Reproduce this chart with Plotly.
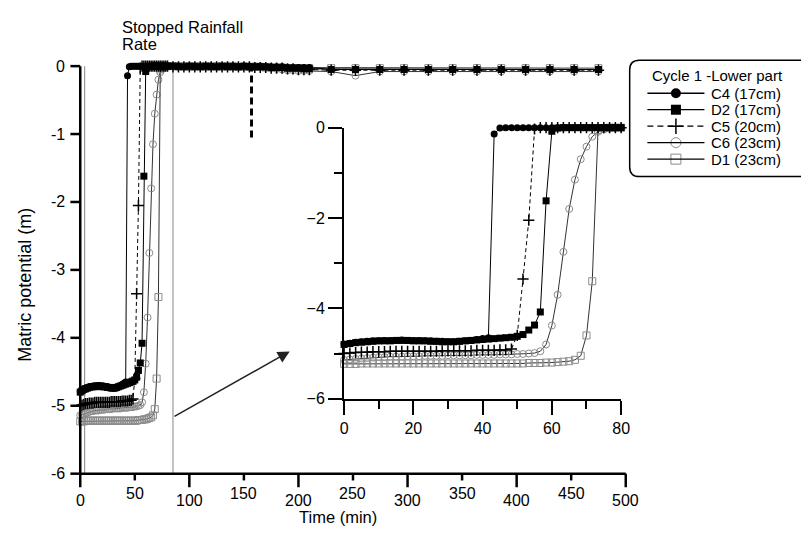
import numpy as np
import plotly.graph_objects as go

W, H = 801, 544

# ---- sampling times (min): 100-s logging while wetting, then 5 min, then ~22 min
t_fast = np.arange(49) * 100 / 60          # 0 .. 80 min
t_mid = np.arange(85, 211, 5)              # 85 .. 210 min
t_slow = np.linspace(230, 475, 12)         # 230 .. 475 min
time = np.concatenate([t_fast, t_mid, t_slow])

# ---- matric potential readings (m)
C4_fast = [-4.79, -4.77, -4.75, -4.74, -4.73, -4.72, -4.72, -4.71, -4.71, -4.71,
           -4.70, -4.71, -4.71, -4.71, -4.72, -4.72, -4.73, -4.73, -4.74, -4.74,
           -4.73, -4.72, -4.71, -4.69, -4.67, -4.65, -0.14, -0.01, 0.00, 0.00,
           0.00, 0.00, 0.00, 0.00, 0.00, 0.00, 0.00, 0.00, 0.00, 0.00,
           0.00, 0.00, 0.00, 0.00, 0.00, 0.00, 0.00, 0.00, 0.00]
D2_fast = [-4.80, -4.78, -4.76, -4.75, -4.74, -4.73, -4.72, -4.72, -4.72, -4.71,
           -4.71, -4.71, -4.72, -4.72, -4.72, -4.73, -4.73, -4.74, -4.74, -4.74,
           -4.73, -4.72, -4.71, -4.70, -4.69, -4.68, -4.67, -4.66, -4.65, -4.64,
           -4.62, -4.58, -4.48, -4.37, -4.08, -1.62, -0.08, -0.01, 0.00, 0.00,
           0.00, 0.00, 0.00, 0.00, 0.00, 0.00, 0.00, 0.00, 0.00]
C5_fast = [-5.00, -4.99, -4.98, -4.97, -4.97, -4.96, -4.96, -4.96, -4.95, -4.95,
           -4.95, -4.95, -4.95, -4.95, -4.95, -4.95, -4.95, -4.94, -4.94, -4.94,
           -4.94, -4.94, -4.94, -4.93, -4.93, -4.93, -4.93, -4.92, -4.92, -4.90,
           -4.60, -3.35, -2.05, -0.03, 0.00, 0.00, 0.00, 0.00, 0.00, 0.00,
           0.00, 0.00, 0.00, 0.00, 0.00, 0.00, 0.00, 0.00, 0.00]
C6_fast = [-5.14, -5.13, -5.12, -5.11, -5.10, -5.09, -5.08, -5.08, -5.07, -5.07,
           -5.07, -5.06, -5.06, -5.06, -5.05, -5.05, -5.05, -5.05, -5.04, -5.04,
           -5.04, -5.04, -5.04, -5.03, -5.03, -5.03, -5.03, -5.02, -5.02, -5.02,
           -5.01, -5.01, -5.00, -4.99, -4.95, -4.80, -4.38, -3.70, -2.75, -1.80,
           -1.15, -0.70, -0.42, -0.20, -0.09, -0.04, -0.02, -0.01, 0.00]
D1_fast = [-5.23, -5.23, -5.23, -5.22, -5.22, -5.22, -5.22, -5.22, -5.22, -5.22,
           -5.22, -5.22, -5.22, -5.22, -5.22, -5.22, -5.22, -5.22, -5.22, -5.22,
           -5.22, -5.22, -5.22, -5.22, -5.22, -5.22, -5.22, -5.22, -5.22, -5.22,
           -5.22, -5.22, -5.21, -5.21, -5.21, -5.20, -5.20, -5.19, -5.18, -5.17,
           -5.14, -5.05, -4.60, -3.40, -0.05, -0.01, 0.00, 0.00, 0.00]

C4_mid = [0.00, 0.00, -0.01, 0.00, 0.00, -0.01, 0.00, 0.00, -0.01, 0.00, 0.00, 0.00, -0.01,
          0.00, 0.00, -0.01, 0.00, -0.01, -0.01, -0.01, -0.01, -0.02, -0.02, -0.02, -0.02, -0.02]
D2_mid = [0.00, -0.01, -0.01, 0.00, -0.01, -0.01, 0.00, -0.01, -0.01, 0.00, -0.01, -0.01, -0.01,
          0.00, -0.01, -0.01, -0.01, -0.01, -0.02, -0.02, -0.02, -0.03, -0.03, -0.03, -0.04, -0.04]
C5_mid = [-0.01, -0.01, -0.01, -0.01, -0.01, -0.01, -0.01, -0.01, -0.01, -0.01, -0.01, -0.01, -0.01,
          -0.01, -0.01, -0.02, -0.02, -0.02, -0.03, -0.03, -0.03, -0.04, -0.04, -0.05, -0.05, -0.05]
C6_mid = [0.01, 0.02, 0.03, 0.03, 0.02, 0.03, 0.03, 0.02, 0.03, 0.02, 0.03, 0.02, 0.02,
          0.01, 0.01, 0.00, -0.01, -0.02, -0.03, -0.04, -0.05, -0.06, -0.06, -0.07, -0.07, -0.07]
D1_mid = [0.00, 0.00, 0.00, -0.01, 0.00, 0.00, -0.01, 0.00, 0.00, -0.01, 0.00, 0.00, -0.01,
          -0.01, -0.01, -0.01, -0.01, -0.02, -0.02, -0.02, -0.02, -0.03, -0.03, -0.03, -0.03, -0.03]

C4_slow = [-0.05, -0.05, -0.05, -0.05, -0.05, -0.05, -0.05, -0.05, -0.05, -0.05, -0.05, -0.05]
D2_slow = [-0.05, -0.05, -0.05, -0.05, -0.05, -0.05, -0.05, -0.05, -0.05, -0.05, -0.05, -0.05]
C5_slow = [-0.06, -0.06, -0.06, -0.06, -0.06, -0.06, -0.06, -0.06, -0.06, -0.06, -0.06, -0.06]
C6_slow = [-0.08, -0.14, -0.08, -0.08, -0.08, -0.08, -0.08, -0.08, -0.08, -0.08, -0.08, -0.08]
D1_slow = [-0.03, -0.03, -0.03, -0.03, -0.03, -0.03, -0.03, -0.03, -0.03, -0.03, -0.03, -0.03]

names = ["C4 (17cm)", "D2 (17cm)", "C5 (20cm)", "C6 (23cm)", "D1 (23cm)"]
series = [C4_fast + C4_mid + C4_slow,
          D2_fast + D2_mid + D2_slow,
          C5_fast + C5_mid + C5_slow,
          C6_fast + C6_mid + C6_slow,
          D1_fast + D1_mid + D1_slow]

main_x_major = [0, 100, 200, 300, 400, 500]
main_x_minor = [50, 150, 250, 350, 450]
main_y_ticks = [0, -1, -2, -3, -4, -5, -6]
rain_stop = 157          # min, end of rainfall
zoom_window = [4, 85]    # min, region enlarged in the inset

GRAY = "#8c8c8c"
styles = [
    dict(symbol="circle", size=7, color="black", line=dict(width=0), lc="black", dash="solid"),
    dict(symbol="square", size=7, color="black", line=dict(width=0), lc="black", dash="solid"),
    dict(symbol="cross-thin-open", size=8, color="black", line=dict(width=1.5, color="black"), lc="black", dash="4px,3px"),
    dict(symbol="circle-open", size=7, color=GRAY, line=dict(width=1, color=GRAY), lc="#333333", dash="solid"),
    dict(symbol="square-open", size=7, color=GRAY, line=dict(width=1, color=GRAY), lc="#333333", dash="solid"),
]

FONT = "Liberation Sans, Arial, sans-serif"

# plot-area placement in pixels
MX0, MX1 = 77.5, 632.0      # main time axis: 0 .. 500 min
MY0, MY1 = 60.0, 480.7      # main potential axis: 0 .. -6 m
IX0, IX1 = 345.7, 627.3     # inset time axis: 0 .. 80 min
IY0, IY1 = 123.5, 403.3     # inset potential axis: 0 .. -6 m


def px_x(p):
    return p / W


def px_y(p):
    return 1 - p / H


def main_px_x(t):
    return MX0 + (MX1 - MX0) * t / 500


def main_px_y(v):
    return MY0 + (MY1 - MY0) * (-v) / 6


fig = go.Figure()

n_fast = len(t_fast)
# grey probes first, the black ones on top
for idx in [3, 4, 2, 0, 1]:
    name, vals, st = names[idx], series[idx], styles[idx]
    mk = dict(symbol=st["symbol"], size=st["size"], color=st["color"], line=st["line"])
    ln = dict(color=st["lc"], width=1, dash=st["dash"])
    # full record
    fig.add_trace(go.Scatter(x=time, y=vals, mode="lines+markers", name=name,
                             marker=mk, line=ln, cliponaxis=False, showlegend=False,
                             xaxis="x", yaxis="y"))
    # first 80 minutes, enlarged
    fig.add_trace(go.Scatter(x=time[:n_fast], y=vals[:n_fast], mode="lines+markers", name=name,
                             marker=mk, line=ln, cliponaxis=False, showlegend=False,
                             xaxis="x2", yaxis="y2"))

# ---- legend (box, samples and labels), laid out in pixels
leg_left, leg_top, leg_bot, leg_right = 636, 54, 174, 820
leg_title_y = 70
leg_rows = [88, 105, 122, 139, 156]
line_x0, line_x1, mark_x, text_x = 654, 712, 683, 717
lx_dom = [px_x(leg_left), 1.0]
ly_dom = [px_y(leg_bot + 6), px_y(leg_top - 6)]
for name, st, yy in zip(names, styles, leg_rows):
    mk = dict(symbol=st["symbol"], size=st["size"] + 3, color=st["color"], line=st["line"])
    fig.add_trace(go.Scatter(x=[mark_x], y=[yy], mode="markers", marker=mk,
                             showlegend=False, hoverinfo="skip", xaxis="x3", yaxis="y3",
                             cliponaxis=False))

shapes = []
annotations = []


def seg(xa, ya, xb, yb, width=2.5, color="black", dash="solid"):
    shapes.append(dict(type="line", xref="paper", yref="paper",
                       x0=px_x(xa), y0=px_y(ya), x1=px_x(xb), y1=px_y(yb),
                       line=dict(color=color, width=width, dash=dash), layer="above"))


# zoom window on the main plot
shapes.append(dict(type="rect", xref="x", yref="y", x0=zoom_window[0], x1=zoom_window[1],
                   y0=-6, y1=0.07, line=dict(color="#9a9a9a", width=1.2), layer="below"))
# end-of-rainfall marker
shapes.append(dict(type="line", xref="x", yref="y", x0=rain_stop, x1=rain_stop, y0=-1.05, y1=0.46,
                   line=dict(color="black", width=3, dash="7px,4px")))

# main axes: spines and ticks
seg(MX0, MY0, MX0, MY1 + 1)
seg(MX0 - 1, MY1, MX1, MY1)
for v in main_y_ticks:
    seg(MX0 - 10, main_px_y(v), MX0, main_px_y(v))
for t in main_x_major:
    seg(main_px_x(t), MY1, main_px_x(t), MY1 + 14)
for t in main_x_minor:
    seg(main_px_x(t), MY1, main_px_x(t), MY1 + 7)

# legend frame (rounded)
r = 10
x0, x1, y0, y1 = px_x(leg_left), px_x(leg_right), px_y(leg_top), px_y(leg_bot)
rx, ry = r / W, r / H
path = (f"M {x0 + rx},{y0} L {x1 - rx},{y0} Q {x1},{y0} {x1},{y0 - ry} "
        f"L {x1},{y1 + ry} Q {x1},{y1} {x1 - rx},{y1} L {x0 + rx},{y1} "
        f"Q {x0},{y1} {x0},{y1 + ry} L {x0},{y0 - ry} Q {x0},{y0} {x0 + rx},{y0} Z")
shapes.append(dict(type="path", xref="paper", yref="paper", path=path,
                   line=dict(color="black", width=1.5)))
for st, yy in zip(styles, leg_rows):
    seg(line_x0, yy, line_x1, yy, width=1.3,
        dash="6px,4px" if st["dash"] != "solid" else "solid")

annotations.append(dict(text="Cycle 1 -Lower part", xref="paper", yref="paper",
                        x=px_x(657), y=px_y(leg_title_y), xanchor="left", yanchor="middle",
                        showarrow=False, font=dict(size=15)))
for name, yy in zip(names, leg_rows):
    annotations.append(dict(text=name, xref="paper", yref="paper",
                            x=px_x(text_x), y=px_y(yy), xanchor="left", yanchor="middle",
                            showarrow=False, font=dict(size=15)))

# time-axis labels: long ticks carry the lower row, short ticks the upper row
for v in main_x_major:
    annotations.append(dict(text=str(v), xref="paper", yref="paper", x=px_x(main_px_x(v)),
                            y=px_y(508), xanchor="center", yanchor="middle", showarrow=False,
                            font=dict(size=16)))
for v in main_x_minor:
    annotations.append(dict(text=str(v), xref="paper", yref="paper", x=px_x(main_px_x(v)),
                            y=px_y(501), xanchor="center", yanchor="middle", showarrow=False,
                            font=dict(size=16)))
for v in main_y_ticks:
    annotations.append(dict(text=str(v), xref="paper", yref="paper", x=px_x(MX0 - 13),
                            y=px_y(main_px_y(v)), xanchor="right", yanchor="middle",
                            showarrow=False, font=dict(size=16)))

# text labels
annotations.append(dict(text="Stopped Rainfall", xref="paper", yref="paper",
                        x=px_x(118), y=px_y(20), xanchor="left", yanchor="middle",
                        showarrow=False, font=dict(size=16.5)))
annotations.append(dict(text="Rate", xref="paper", yref="paper",
                        x=px_x(118), y=px_y(37), xanchor="left", yanchor="middle",
                        showarrow=False, font=dict(size=16.5)))
annotations.append(dict(text="Matric potential (m)", xref="paper", yref="paper",
                        x=px_x(21), y=px_y(286), xanchor="center", yanchor="middle",
                        textangle=-90, showarrow=False, font=dict(size=18)))
annotations.append(dict(text="Time (min)", xref="paper", yref="paper",
                        x=px_x(340), y=px_y(525), xanchor="center", yanchor="middle",
                        showarrow=False, font=dict(size=16.5)))
# arrow from the zoom window to the inset
annotations.append(dict(text="", xref="x", yref="y", axref="x", ayref="y",
                        x=192, y=-4.2, ax=zoom_window[1], ay=-5.17,
                        showarrow=True, arrowhead=2, arrowsize=1.6, arrowwidth=1.5,
                        arrowcolor="#222222"))

main_dom_x = [px_x(MX0), px_x(MX1)]
main_dom_y = [px_y(MY1), px_y(MY0)]
ins_dom_x = [px_x(IX0), px_x(IX1)]
ins_dom_y = [px_y(IY1), px_y(IY0)]

axis_common = dict(showgrid=False, zeroline=False, showline=True, linecolor="black",
                   ticks="outside", tickcolor="black", tickfont=dict(size=16, color="black"))

fig.update_layout(
    width=W, height=H,
    margin=dict(l=0, r=0, t=0, b=0),
    paper_bgcolor="white", plot_bgcolor="white",
    font=dict(family=FONT, color="black", size=16),
    showlegend=False,
    xaxis=dict(domain=main_dom_x, range=[0, 500], anchor="y", visible=False),
    yaxis=dict(domain=main_dom_y, range=[-6, 0], anchor="x", visible=False),
    xaxis2=dict(domain=ins_dom_x, range=[0, 80], anchor="y2", dtick=20,
                ticklen=14, tickwidth=2.2, linewidth=2.2,
                minor=dict(dtick=10, ticklen=8, tickwidth=2.2, ticks="outside", tickcolor="black"),
                **axis_common),
    yaxis2=dict(domain=ins_dom_y, range=[-6, 0], anchor="x2", dtick=2,
                ticklen=14, tickwidth=2.2, linewidth=2.2,
                minor=dict(dtick=1, ticklen=8, tickwidth=2.2, ticks="outside", tickcolor="black"),
                **axis_common),
    xaxis3=dict(domain=lx_dom, range=[leg_left, W], visible=False, anchor="y3", fixedrange=True),
    yaxis3=dict(domain=ly_dom, range=[leg_bot + 6, leg_top - 6], visible=False, anchor="x3",
                fixedrange=True),
    shapes=shapes,
    annotations=annotations,
)

fig.write_html("out.html")
